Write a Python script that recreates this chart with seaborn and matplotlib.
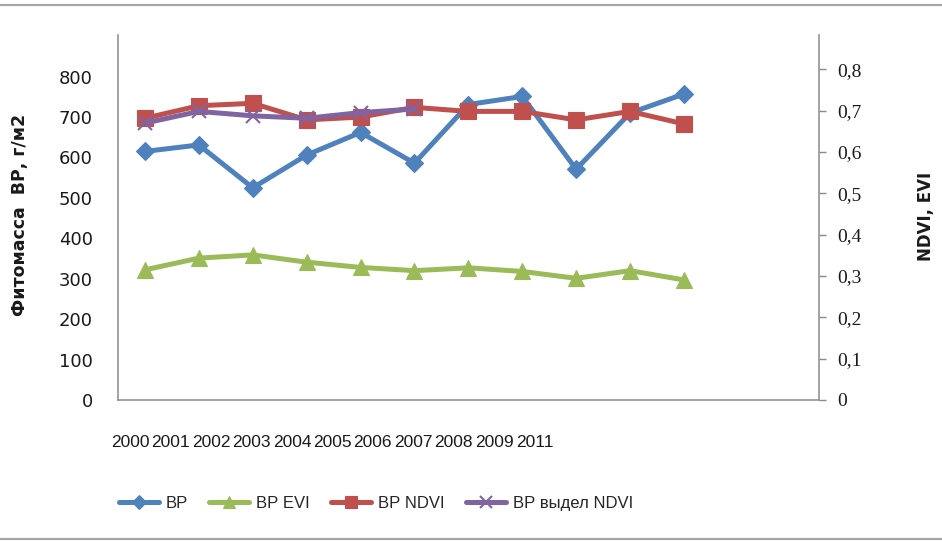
import numpy as np
import pandas as pd
import matplotlib
matplotlib.use("Agg")
import matplotlib.pyplot as plt
from matplotlib.lines import Line2D
import seaborn as sns

# --- data -------------------------------------------------------------
years = ["2000", "2001", "2002", "2003", "2004", "2005",
         "2006", "2007", "2008", "2009", "2011"]
bp = [615, 631, 525, 606, 662, 586, 731, 751, 571, 710, 757]
bp_evi = [322, 351, 359, 341, 328, 320, 327, 318, 301, 320, 297]
bp_ndvi = [697, 728, 734, 693, 700, 724, 714, 714, 693, 714, 683]
bp_sel_ndvi = [685, 714, 703, 697, 711, 720]

left_ticks = [0, 100, 200, 300, 400, 500, 600, 700, 800]
right_ticks = [0, 0.1, 0.2, 0.3, 0.4, 0.5, 0.6, 0.7, 0.8]
right_tick_labels = ["0", "0,1", "0,2", "0,3", "0,4", "0,5", "0,6", "0,7", "0,8"]

series_names = ["ВР", "ВР EVI", "ВР NDVI", "ВР выдел NDVI"]
colors = ["#4F81BD", "#9BBB59", "#C0504D", "#8064A2"]

# --- style ------------------------------------------------------------
sns.set_theme(style="white")
plt.rcParams["font.family"] = ["DejaVu Sans"]
narrow = ["Liberation Sans Narrow", "Liberation Sans", "DejaVu Sans"]
serif = ["Liberation Serif", "DejaVu Serif"]
axis_grey = "#8a8a8a"
text_col = "#1a1a1a"

fig = plt.figure(figsize=(9.42, 5.41), dpi=100)
fig.patch.set_facecolor("white")
ax = fig.add_axes([118 / 942, 1 - 400 / 541, 701 / 942, 365 / 541])
ax2 = ax.twinx()

pos = np.arange(len(years))
frames = {
    series_names[0]: pd.DataFrame({"x": pos, "y": bp}),
    series_names[1]: pd.DataFrame({"x": pos, "y": bp_evi}),
    series_names[2]: pd.DataFrame({"x": pos, "y": bp_ndvi}),
    series_names[3]: pd.DataFrame({"x": pos[:len(bp_sel_ndvi)], "y": bp_sel_ndvi}),
}
markers = ["D", "^", "s", "x"]
msizes = [9.5, 11, 11, 10]

for name, col, mk, ms in zip(series_names, colors, markers, msizes):
    df = frames[name]
    sns.lineplot(data=df, x="x", y="y", ax=ax, color=col, linewidth=3.6,
                 marker=mk, markersize=ms, markeredgecolor=col,
                 markeredgewidth=1.5 if mk == "x" else 0.8,
                 label=name, zorder=3, legend=False)

# --- axes -------------------------------------------------------------
ax.set_xlim(-0.5, -0.5 + 701 / 53.9)
ax.set_ylim(0, 903)
ax2.set_ylim(0, 0.883)

ax.set_yticks(left_ticks)
ax.set_yticklabels([str(t) for t in left_ticks], fontsize=13, color=text_col)
ax.tick_params(axis="y", length=0, pad=18)

tick_pos = -0.278 + np.arange(len(years)) * 0.751
ax.set_xticks(tick_pos)
ax.set_xticklabels(years, fontsize=12.5, color=text_col, family=narrow)
ax.tick_params(axis="x", length=0, pad=25)
ax.set_xlabel("")

ax2.set_yticks(right_ticks)
ax2.set_yticklabels(right_tick_labels, fontsize=14, color=text_col, family=serif)
ax2.tick_params(axis="y", length=5, width=1.0, color=axis_grey, pad=8, direction="out")

for a in (ax, ax2):
    a.spines["top"].set_visible(False)
    for s in ("left", "right", "bottom"):
        a.spines[s].set_color(axis_grey)
        a.spines[s].set_linewidth(1.1)
    a.grid(False)
    a.set_facecolor("none")
ax.spines["right"].set_visible(False)
ax2.spines["left"].set_visible(False)
ax2.spines["bottom"].set_visible(False)

ax.set_ylabel("Фитомасса  ВР, г/м2", fontsize=12.5, fontweight="bold", color=text_col)
ax.yaxis.set_label_coords(-0.127, 0.507)
ax2.set_ylabel("NDVI, EVI", fontsize=12, fontweight="bold", color=text_col)
ax2.yaxis.set_label_coords(1.140, 0.504)

# --- legend -----------------------------------------------------------
handles = [Line2D([0], [0], color=c, linewidth=3.6, marker=m,
                  markersize=s * 0.8, markeredgecolor=c,
                  markeredgewidth=1.5 if m == "x" else 0.8)
           for c, m, s in zip(colors, markers, msizes)]
fig.legend(handles, series_names, loc="center", ncol=4,
           bbox_to_anchor=(0.399, 0.070), frameon=False,
           prop={"family": narrow, "size": 12},
           handlelength=2.4, handletextpad=0.4, columnspacing=1.3)

# frame lines above and below the chart
for yy in (1 - 5 / 541, 1 - 539 / 541):
    fig.add_artist(Line2D([0, 1], [yy, yy], transform=fig.transFigure,
                          color="#a6a6a6", linewidth=1.6))

fig.savefig("out.png", dpi=100, facecolor="white")
